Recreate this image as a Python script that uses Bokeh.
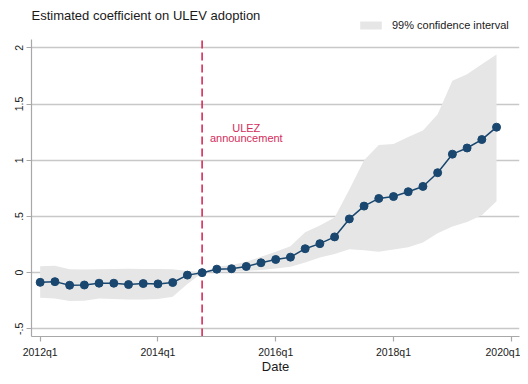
from bokeh.plotting import figure
from bokeh.models import (Range1d, FixedTicker, Label, Legend, LegendItem)
from bokeh.core.properties import value
from bokeh.embed import file_html
from bokeh.resources import INLINE

# ---- data ----
quarter_index = list(range(32))  # 0 = 2012q1 ... 31 = 2019q4
estimate = [-0.086, -0.080, -0.112, -0.110, -0.094, -0.094, -0.106, -0.097,
            -0.100, -0.088, -0.022, 0.000, 0.031, 0.035, 0.055, 0.088,
            0.117, 0.138, 0.213, 0.258, 0.318, 0.478, 0.592, 0.660,
            0.677, 0.720, 0.767, 0.889, 1.054, 1.109, 1.184, 1.294]
ci_upper = [0.056, 0.062, 0.030, 0.028, 0.030, 0.033, 0.035, 0.033,
            0.033, 0.030, 0.015, 0.000, 0.053, 0.068, 0.097, 0.141,
            0.185, 0.235, 0.360, 0.420, 0.490, 0.740, 1.000, 1.135,
            1.145, 1.206, 1.265, 1.410, 1.706, 1.765, 1.855, 1.940]
ci_lower = [-0.224, -0.230, -0.253, -0.250, -0.230, -0.235, -0.238, -0.238,
            -0.235, -0.215, -0.100, 0.000, 0.010, 0.010, 0.015, 0.024,
            0.038, 0.053, 0.090, 0.135, 0.165, 0.209, 0.200, 0.185,
            0.206, 0.225, 0.268, 0.350, 0.410, 0.450, 0.510, 0.635]
x_ticks = [0, 8, 16, 24, 32]
x_tick_labels = ["2012q1", "2014q1", "2016q1", "2018q1", "2020q1"]
y_ticks = [-0.5, 0, 0.5, 1, 1.5, 2]
y_tick_labels = ["-.5", "0", ".5", "1", "1.5", "2"]
announcement_quarter = 11  # 2014q4

FONT = "Liberation Sans"
NAVY = "#1a476f"
RED = "#d42c5c"
GRID = "#c8c8c8"
AXIS = "#a8a8a8"

Y_LO, Y_AXIS_HI, Y_FRAME_HI = -0.568, 2.07, 2.421

p = figure(width=520, height=376, output_backend="svg", toolbar_location=None,
           x_range=Range1d(-0.59, 32.56), y_range=Range1d(Y_LO, Y_FRAME_HI),
           min_border_left=31, min_border_right=1, min_border_top=0,
           min_border_bottom=37)
p.outline_line_color = None
p.background_fill_color = "white"
p.border_fill_color = "white"

# axes
p.xaxis.ticker = FixedTicker(ticks=x_ticks)
p.xaxis.major_label_overrides = {t: l for t, l in zip(x_ticks, x_tick_labels)}
p.yaxis.ticker = FixedTicker(ticks=y_ticks)
p.yaxis.major_label_overrides = {t: l for t, l in zip(y_ticks, y_tick_labels)}
p.yaxis.major_label_orientation = "vertical"
p.yaxis.bounds = (Y_LO, Y_AXIS_HI)
for ax in (p.xaxis, p.yaxis):
    ax.axis_line_color = AXIS
    ax.axis_line_width = 1.2
    ax.major_tick_line_color = AXIS
    ax.major_tick_line_width = 1.2
    ax.major_tick_out = 5
    ax.major_tick_in = 0
    ax.minor_tick_line_color = None
    ax.major_label_text_font = FONT
    ax.major_label_text_font_size = "10.5px"
    ax.major_label_text_color = "#1a1a1a"
p.xaxis.major_label_standoff = 4
p.yaxis.major_label_standoff = 3
p.xaxis.axis_label = "Date"
p.xaxis.axis_label_text_font = FONT
p.xaxis.axis_label_text_font_size = "13px"
p.xaxis.axis_label_text_font_style = "normal"
p.xaxis.axis_label_text_color = "#1a1a1a"
p.xaxis.axis_label_standoff = -2

p.xgrid.grid_line_color = None
p.ygrid.grid_line_color = GRID
p.ygrid.grid_line_width = 1.3

band = p.varea(x=quarter_index, y1=ci_lower, y2=ci_upper,
               fill_color="#e6e6e6", fill_alpha=1.0)
p.segment(x0=[announcement_quarter], y0=[Y_LO], x1=[announcement_quarter],
          y1=[Y_AXIS_HI], line_color=RED, line_width=1.6, line_dash="8 4")
p.line(quarter_index, estimate, line_color=NAVY, line_width=1.5)
p.scatter(quarter_index, estimate, size=8, fill_color=NAVY, line_color=NAVY)

p.text(x=[14, 14], y=[1.289, 1.20], text=["ULEZ", "announcement"],
       text_font=value(FONT), text_font_size="11px", text_color=RED,
       text_align="center", text_baseline="middle")

legend = Legend(items=[LegendItem(label="99% confidence interval", renderers=[band])],
                location=(326, 304.7), orientation="horizontal",
                padding=0, margin=0, spacing=0, border_line_color=None,
                background_fill_alpha=0, glyph_width=27, glyph_height=10,
                label_height=10, label_standoff=8,
                label_text_font=FONT, label_text_font_size="11px",
                label_text_color="#1a1a1a")
p.add_layout(legend)

p.add_layout(Label(x=0, y=321, x_units="screen", y_units="screen",
                   text="Estimated coefficient on ULEV adoption",
                   text_font=FONT, text_font_size="13px", text_color="#1a1a1a",
                   text_baseline="middle", text_align="left"))

open("out.html", "w").write(file_html(p, INLINE))
